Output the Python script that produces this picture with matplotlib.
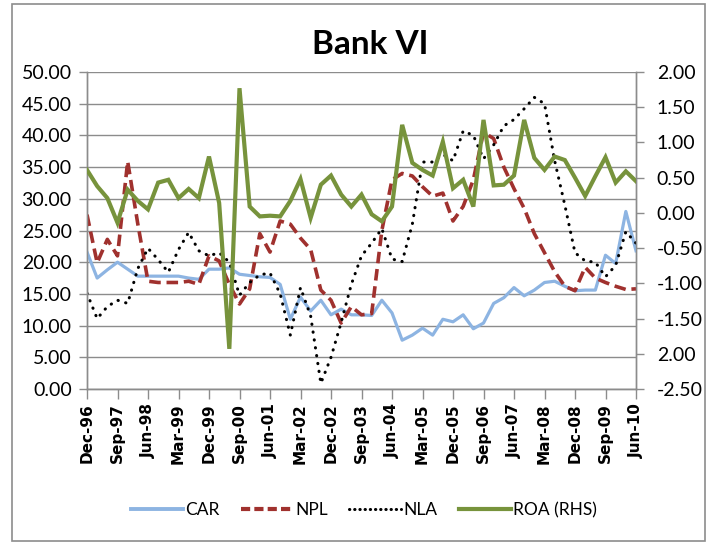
import numpy as np
import matplotlib
matplotlib.use("Agg")
import matplotlib.pyplot as plt
from matplotlib.patches import Rectangle
from matplotlib.lines import Line2D

# quarterly labels, Dec-96 .. Jun-10 (55 quarters), one label every 3 quarters
tick_labels = ["Dec-96", "Sep-97", "Jun-98", "Mar-99", "Dec-99", "Sep-00", "Jun-01",
               "Mar-02", "Dec-02", "Sep-03", "Jun-04", "Mar-05", "Dec-05", "Sep-06",
               "Jun-07", "Mar-08", "Dec-08", "Sep-09", "Jun-10"]

car = [21.6, 17.5, 18.8, 20.0, 18.9, 17.8, 17.8, 17.8, 17.8, 17.8, 17.5, 17.3, 18.9, 18.9,
       19.1, 18.1, 17.9, 17.7, 17.6, 16.5, 11.0, 14.5, 12.3, 14.0, 11.7, 12.6, 11.7, 11.7,
       11.6, 14.0, 12.0, 7.7, 8.5, 9.6, 8.5, 11.0, 10.6, 11.7, 9.5, 10.4, 13.5, 14.4, 16.0,
       14.7, 15.6, 16.8, 17.0, 16.2, 15.5, 15.6, 15.6, 21.1, 19.8, 28.0, 21.8]

npl = [27.5, 19.9, 23.6, 21.0, 35.9, 26.0, 17.0, 16.8, 16.8, 16.8, 17.0, 16.5, 21.0, 20.2,
       16.5, 13.4, 15.8, 24.5, 21.6, 26.5, 26.0, 23.8, 22.0, 15.6, 14.0, 10.4, 13.0, 11.7,
       11.9, 25.0, 33.0, 34.0, 33.6, 31.9, 30.4, 30.9, 26.5, 28.8, 33.0, 40.5, 39.5, 35.0,
       31.6, 28.5, 24.5, 21.5, 18.5, 16.2, 15.5, 19.2, 17.5, 16.8, 16.2, 15.7, 15.8]

nla = [15.1, 11.1, 13.0, 14.0, 13.5, 19.0, 22.2, 20.4, 18.4, 22.0, 24.7, 21.8, 21.0, 21.5,
       20.0, 14.8, 16.8, 18.0, 18.3, 15.0, 8.5, 16.0, 11.5, 0.9, 5.0, 10.5, 16.5, 21.0,
       23.0, 25.3, 20.5, 20.1, 26.0, 35.8, 35.8, 37.0, 36.0, 40.7, 40.0, 36.3, 38.5, 41.5,
       42.5, 44.2, 46.0, 45.0, 36.0, 29.0, 21.5, 20.2, 20.0, 17.7, 19.5, 24.8, 23.0]

roa = [0.61, 0.38, 0.21, -0.14, 0.33, 0.17, 0.05, 0.43, 0.47, 0.21, 0.34, 0.21, 0.80, 0.14,
       -1.93, 1.77, 0.09, -0.05, -0.04, -0.05, 0.17, 0.48, -0.07, 0.40, 0.53, 0.26, 0.09,
       0.26, -0.02, -0.12, 0.09, 1.25, 0.71, 0.61, 0.53, 1.01, 0.35, 0.47, 0.09, 1.32, 0.39,
       0.40, 0.53, 1.32, 0.78, 0.61, 0.80, 0.75, 0.50, 0.24, 0.52, 0.79, 0.43, 0.59, 0.45]

left_ticks = [0, 5, 10, 15, 20, 25, 30, 35, 40, 45, 50]
right_ticks = [-2.5, -2.0, -1.5, -1.0, -0.5, 0.0, 0.5, 1.0, 1.5, 2.0]
right_labels = ["-2.50", "2.00", "-1.50", "-1.00", "-0.50", "0.00", "0.50", "1.00", "1.50", "2.00"]

FONT = "Lato"

c_car = "#8db4e2"
c_npl = "#a0312e"
c_nla = "black"
c_roa = "#77933c"
c_grid = "#8c8c8c"

fig = plt.figure(figsize=(7.14, 5.45), dpi=100)
ax = fig.add_axes([87 / 714, 1 - 389 / 545, (636 - 87) / 714, (389 - 72) / 545])
ax2 = ax.twinx()

x = np.arange(len(car))
ax.plot(x, car, color=c_car, lw=2.3, solid_joinstyle="round", zorder=3)
ax.plot(x, npl, color=c_npl, lw=2.6, linestyle=(0, (3.2, 1.6)), zorder=3)
ax.plot(x, nla, color=c_nla, lw=2.2, linestyle=(0, (0.1, 2.5)),
        dash_capstyle="round", zorder=3)
ax2.plot(x, roa, color=c_roa, lw=3.0, solid_joinstyle="miter", zorder=3)

ax.set_xlim(0, len(car) - 1)
ax.set_ylim(0, 50)
ax2.set_ylim(-2.5, 2.0)

ax.set_yticks(left_ticks)
ax.set_yticklabels([f"{v:.2f}" for v in left_ticks], fontfamily=FONT, fontsize=14)
ax.yaxis.grid(True, color=c_grid, lw=1.0)
ax.set_axisbelow(True)

ax2.set_yticks(right_ticks)
ax2.set_yticklabels(right_labels, fontfamily=FONT, fontsize=14)

ax.set_xticks(x[::3])
ax.set_xticklabels(tick_labels, rotation=90, fontsize=11, fontweight="bold",
                   fontfamily="DejaVu Sans")

for a in (ax, ax2):
    a.spines["top"].set_visible(False)
    for s in ("left", "right", "bottom"):
        a.spines[s].set_color(c_grid)
        a.spines[s].set_linewidth(1.0)
    a.tick_params(colors=c_grid, labelcolor="black", length=6, width=1.0, pad=5)
ax.tick_params(axis="x", length=7, pad=3)
ax2.tick_params(axis="y", pad=9)

fig.text(370 / 714, 1 - 45 / 545, "Bank VI", ha="center", va="center",
         fontsize=24, fontweight="bold", fontfamily=FONT)

handles = [
    Line2D([], [], color=c_car, lw=2.8),
    Line2D([], [], color=c_npl, lw=3.0, linestyle=(0, (2.2, 1.0))),
    Line2D([], [], color=c_nla, lw=2.2, linestyle=(0, (0.1, 1.6)), dash_capstyle="round"),
    Line2D([], [], color=c_roa, lw=3.0),
]
fig.legend(handles, ["CAR", "NPL", "NLA", "ROA (RHS)"], loc="center",
           bbox_to_anchor=(364 / 714, 1 - 510 / 545), ncol=4, frameon=False,
           prop={"family": FONT, "size": 12.5}, handlelength=3.0,
           handletextpad=0.12, columnspacing=1.25)

fig.patches.append(Rectangle((12 / 714, 4 / 545), 693 / 714, 537 / 545,
                             transform=fig.transFigure, fill=False,
                             edgecolor="#8c8c8c", lw=1.2))

fig.savefig("out.png", dpi=100)
